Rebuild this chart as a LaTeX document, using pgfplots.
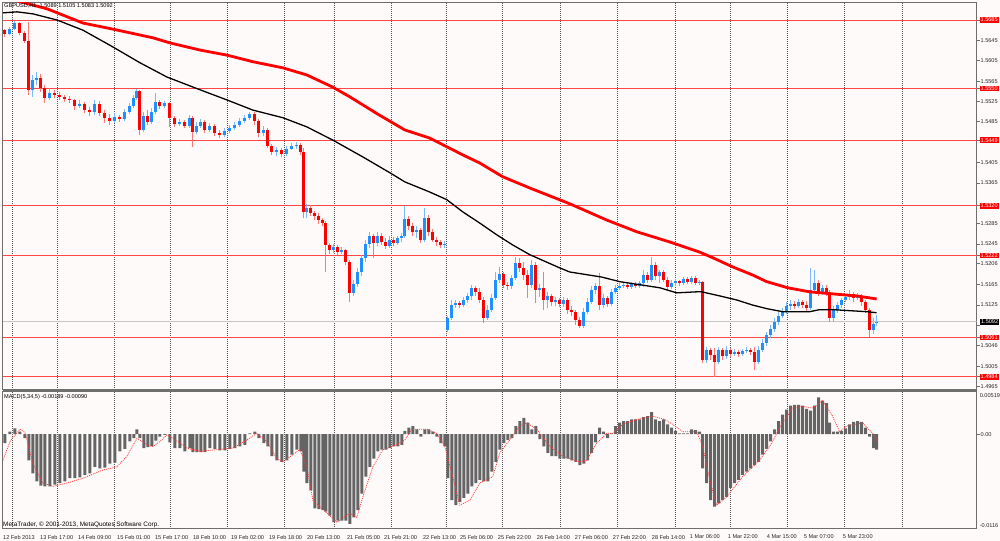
\documentclass[border=0pt]{standalone}
\usepackage{pgfplots}
\pgfplotsset{compat=1.18}
\usepackage{pgfplotstable}
\usepackage{fontspec}
\setmainfont{Liberation Sans}
\definecolor{bg}{RGB}{255,250,250}
\definecolor{upc}{RGB}{30,144,255}
\definecolor{dnc}{RGB}{255,0,0}
\definecolor{upw}{RGB}{120,185,255}
\definecolor{dnw}{RGB}{255,120,120}
\definecolor{lvl}{RGB}{255,70,70}
\definecolor{framec}{RGB}{110,110,110}
\definecolor{gridc}{RGB}{85,85,85}
\definecolor{histc}{RGB}{100,100,100}
\definecolor{sigc}{RGB}{255,60,60}

\pgfplotstableread{
x o h l c
5 1.5665 1.5667 1.5652 1.5658
10 1.5658 1.5671 1.5656 1.5667
15 1.5667 1.5683 1.5665 1.5679
20 1.5679 1.5681 1.5656 1.5660
25 1.5660 1.5663 1.5640 1.5644
29 1.5644 1.5681 1.5538 1.5548
33 1.5548 1.5577 1.5534 1.5567
37 1.5567 1.5583 1.5557 1.5571
41 1.5571 1.5579 1.5544 1.5552
45 1.5552 1.5557 1.5522 1.5532
50 1.5532 1.5552 1.5528 1.5542
55 1.5542 1.5548 1.5532 1.5538
60 1.5538 1.5544 1.5528 1.5534
65 1.5534 1.5538 1.5524 1.5530
70 1.5530 1.5536 1.5522 1.5528
75 1.5528 1.5530 1.5508 1.5516
80 1.5516 1.5528 1.5512 1.5520
85 1.5520 1.5524 1.5502 1.5508
90 1.5508 1.5514 1.5496 1.5504
95 1.5504 1.5528 1.5498 1.5520
100 1.5520 1.5526 1.5496 1.5502
105 1.5502 1.5508 1.5483 1.5493
110 1.5493 1.5500 1.5479 1.5487
115 1.5487 1.5502 1.5483 1.5495
120 1.5495 1.5498 1.5485 1.5491
125 1.5491 1.5510 1.5487 1.5504
130 1.5504 1.5522 1.5500 1.5516
134 1.5516 1.5538 1.5512 1.5532
137 1.5532 1.5550 1.5528 1.5546
140 1.5546 1.5548 1.5459 1.5469
144 1.5469 1.5504 1.5465 1.5497
148 1.5497 1.5508 1.5479 1.5485
152 1.5485 1.5512 1.5481 1.5504
156 1.5504 1.5542 1.5500 1.5524
160 1.5524 1.5528 1.5510 1.5516
165 1.5516 1.5526 1.5512 1.5522
170 1.5522 1.5524 1.5475 1.5493
175 1.5493 1.5497 1.5475 1.5481
180 1.5481 1.5491 1.5477 1.5485
185 1.5485 1.5489 1.5473 1.5477
190 1.5477 1.5498 1.5473 1.5493
193 1.5493 1.5497 1.5436 1.5465
197 1.5465 1.5485 1.5461 1.5477
201 1.5477 1.5491 1.5473 1.5485
205 1.5485 1.5489 1.5463 1.5469
210 1.5469 1.5483 1.5465 1.5477
215 1.5477 1.5481 1.5457 1.5463
220 1.5463 1.5469 1.5453 1.5459
225 1.5459 1.5473 1.5455 1.5467
230 1.5467 1.5479 1.5463 1.5473
235 1.5473 1.5485 1.5469 1.5479
240 1.5479 1.5493 1.5475 1.5487
245 1.5487 1.5498 1.5483 1.5493
250 1.5493 1.5504 1.5489 1.5500
255 1.5500 1.5504 1.5479 1.5487
259 1.5487 1.5491 1.5455 1.5463
264 1.5463 1.5477 1.5457 1.5469
268 1.5469 1.5473 1.5434 1.5438
272 1.5438 1.5442 1.5420 1.5426
277 1.5426 1.5436 1.5418 1.5430
282 1.5430 1.5434 1.5416 1.5422
287 1.5422 1.5438 1.5418 1.5432
292 1.5432 1.5444 1.5430 1.5438
297 1.5438 1.5446 1.5432 1.5440
301 1.5440 1.5444 1.5420 1.5426
304 1.5426 1.5434 1.5296 1.5308
307 1.5308 1.5324 1.5296 1.5316
311 1.5316 1.5322 1.5300 1.5306
315 1.5306 1.5310 1.5292 1.5300
319 1.5300 1.5306 1.5284 1.5292
323 1.5292 1.5296 1.5281 1.5286
326 1.5286 1.5290 1.5190 1.5243
330 1.5243 1.5247 1.5226 1.5233
334 1.5233 1.5245 1.5228 1.5239
338 1.5239 1.5243 1.5224 1.5229
342 1.5229 1.5239 1.5226 1.5233
346 1.5233 1.5235 1.5204 1.5210
350 1.5210 1.5214 1.5131 1.5149
354 1.5149 1.5174 1.5143 1.5167
358 1.5167 1.5198 1.5161 1.5190
362 1.5190 1.5224 1.5182 1.5218
366 1.5218 1.5253 1.5210 1.5245
370 1.5245 1.5269 1.5237 1.5261
374 1.5261 1.5265 1.5218 1.5247
378 1.5247 1.5269 1.5241 1.5261
382 1.5261 1.5267 1.5243 1.5249
386 1.5249 1.5257 1.5235 1.5241
390 1.5241 1.5261 1.5237 1.5253
394 1.5253 1.5259 1.5241 1.5247
398 1.5247 1.5261 1.5243 1.5257
402 1.5257 1.5267 1.5249 1.5261
405 1.5261 1.5320 1.5257 1.5294
409 1.5294 1.5300 1.5273 1.5281
413 1.5281 1.5286 1.5261 1.5269
417 1.5269 1.5281 1.5257 1.5273
421 1.5273 1.5277 1.5247 1.5253
425 1.5253 1.5316 1.5249 1.5296
429 1.5296 1.5302 1.5261 1.5269
433 1.5269 1.5275 1.5249 1.5253
437 1.5253 1.5259 1.5241 1.5249
441 1.5249 1.5253 1.5237 1.5243
445 1.5243 1.5251 1.5237 1.5245
448 1.5076 1.5104 1.5072 1.5100
452 1.5100 1.5135 1.5096 1.5125
456 1.5125 1.5135 1.5120 1.5129
460 1.5129 1.5133 1.5120 1.5125
464 1.5125 1.5141 1.5121 1.5135
468 1.5135 1.5149 1.5129 1.5143
472 1.5143 1.5165 1.5135 1.5159
476 1.5159 1.5163 1.5143 1.5151
480 1.5151 1.5159 1.5129 1.5135
484 1.5135 1.5141 1.5090 1.5100
488 1.5100 1.5125 1.5096 1.5116
492 1.5116 1.5147 1.5112 1.5139
496 1.5139 1.5190 1.5135 1.5174
500 1.5174 1.5200 1.5169 1.5186
504 1.5186 1.5190 1.5159 1.5165
508 1.5165 1.5171 1.5155 1.5163
512 1.5163 1.5184 1.5157 1.5178
516 1.5178 1.5220 1.5174 1.5208
520 1.5208 1.5218 1.5190 1.5198
524 1.5198 1.5210 1.5174 1.5184
528 1.5184 1.5194 1.5139 1.5165
532 1.5165 1.5214 1.5159 1.5204
536 1.5204 1.5210 1.5129 1.5155
540 1.5155 1.5167 1.5141 1.5159
544 1.5159 1.5190 1.5116 1.5135
548 1.5135 1.5151 1.5120 1.5143
552 1.5143 1.5147 1.5123 1.5131
556 1.5131 1.5141 1.5123 1.5135
560 1.5135 1.5139 1.5121 1.5127
564 1.5127 1.5141 1.5121 1.5135
568 1.5135 1.5139 1.5108 1.5116
572 1.5116 1.5123 1.5104 1.5112
576 1.5112 1.5116 1.5086 1.5096
580 1.5096 1.5102 1.5080 1.5084
584 1.5084 1.5120 1.5080 1.5112
588 1.5112 1.5139 1.5108 1.5131
592 1.5131 1.5163 1.5127 1.5155
596 1.5155 1.5169 1.5147 1.5163
600 1.5163 1.5188 1.5116 1.5125
604 1.5125 1.5147 1.5120 1.5139
608 1.5139 1.5143 1.5121 1.5127
612 1.5127 1.5157 1.5123 1.5151
616 1.5151 1.5165 1.5147 1.5159
620 1.5159 1.5169 1.5155 1.5163
624 1.5163 1.5171 1.5159 1.5165
628 1.5165 1.5169 1.5157 1.5161
632 1.5161 1.5171 1.5157 1.5167
636 1.5167 1.5171 1.5159 1.5163
640 1.5163 1.5173 1.5159 1.5169
644 1.5169 1.5194 1.5161 1.5184
648 1.5184 1.5190 1.5169 1.5174
652 1.5174 1.5220 1.5171 1.5204
656 1.5204 1.5210 1.5174 1.5182
660 1.5182 1.5194 1.5169 1.5190
664 1.5190 1.5194 1.5171 1.5174
668 1.5174 1.5180 1.5155 1.5161
672 1.5161 1.5174 1.5157 1.5169
676 1.5169 1.5176 1.5163 1.5173
680 1.5173 1.5174 1.5163 1.5169
684 1.5169 1.5180 1.5165 1.5176
688 1.5176 1.5180 1.5167 1.5171
692 1.5171 1.5182 1.5167 1.5178
696 1.5178 1.5182 1.5165 1.5169
700 1.5169 1.5174 1.5165 1.5171
703 1.5171 1.5173 1.5012 1.5017
707 1.5017 1.5043 1.5012 1.5037
711 1.5037 1.5041 1.5017 1.5027
715 1.5027 1.5041 1.4984 1.5013
719 1.5013 1.5043 1.5010 1.5037
723 1.5037 1.5041 1.5017 1.5025
727 1.5025 1.5045 1.5019 1.5037
731 1.5037 1.5041 1.5023 1.5029
735 1.5029 1.5039 1.5025 1.5033
739 1.5033 1.5037 1.5023 1.5029
743 1.5029 1.5039 1.5025 1.5035
747 1.5035 1.5043 1.5031 1.5037
751 1.5037 1.5041 1.5027 1.5033
755 1.5033 1.5043 1.4998 1.5013
759 1.5013 1.5045 1.5010 1.5037
763 1.5037 1.5059 1.5033 1.5051
767 1.5051 1.5072 1.5045 1.5066
771 1.5066 1.5086 1.5061 1.5078
775 1.5078 1.5100 1.5072 1.5092
779 1.5092 1.5112 1.5086 1.5104
783 1.5104 1.5120 1.5100 1.5112
787 1.5112 1.5131 1.5108 1.5123
791 1.5123 1.5135 1.5116 1.5127
795 1.5127 1.5133 1.5118 1.5123
799 1.5123 1.5137 1.5120 1.5131
803 1.5131 1.5135 1.5120 1.5125
807 1.5125 1.5133 1.5112 1.5120
811 1.5120 1.5198 1.5116 1.5155
815 1.5155 1.5194 1.5151 1.5169
819 1.5169 1.5174 1.5143 1.5151
823 1.5151 1.5165 1.5145 1.5159
827 1.5159 1.5165 1.5143 1.5151
830 1.5151 1.5155 1.5092 1.5100
834 1.5100 1.5123 1.5092 1.5116
838 1.5116 1.5131 1.5110 1.5125
842 1.5125 1.5139 1.5120 1.5135
846 1.5135 1.5147 1.5131 1.5141
850 1.5141 1.5155 1.5135 1.5147
854 1.5147 1.5151 1.5131 1.5139
858 1.5139 1.5149 1.5135 1.5143
862 1.5143 1.5147 1.5123 1.5131
866 1.5131 1.5135 1.5110 1.5116
870 1.5116 1.5120 1.5063 1.5076
874 1.5076 1.5100 1.5068 1.5088
877 1.5089 1.5105 1.5083 1.5092
}\candles

\pgfplotstableread{
x y
18 1.5722
47 1.5707
83 1.5679
113 1.5667
153 1.5650
170 1.5640
200 1.5626
227 1.5616
253 1.5603
283 1.5591
307 1.5577
333 1.5553
350 1.5534
378 1.5500
405 1.5469
430 1.5453
447 1.5436
463 1.5420
480 1.5404
503 1.5377
530 1.5355
570 1.5324
607 1.5292
637 1.5269
670 1.5249
700 1.5229
713 1.5218
733 1.5200
753 1.5184
767 1.5171
788 1.5159
810 1.5151
833 1.5147
857 1.5143
877 1.5137
}\redma

\pgfplotstableread{
x y
3 1.5699
17 1.5701
33 1.5697
57 1.5685
83 1.5665
113 1.5632
140 1.5601
167 1.5573
200 1.5548
227 1.5528
253 1.5508
283 1.5493
307 1.5475
333 1.5449
363 1.5416
390 1.5385
405 1.5367
430 1.5347
447 1.5332
463 1.5308
480 1.5286
497 1.5263
513 1.5243
530 1.5224
560 1.5198
570 1.5190
602 1.5180
620 1.5171
640 1.5165
660 1.5159
677 1.5149
697 1.5151
702 1.5151
720 1.5143
737 1.5135
753 1.5125
767 1.5118
783 1.5112
810 1.5112
820 1.5116
833 1.5116
850 1.5114
867 1.5112
877 1.5110
}\blackma

\pgfplotstableread{
x y
5 -0.0011
10 0.0003
15 0.0007
20 0.0003
25 -0.0005
29 -0.0032
33 -0.0048
37 -0.0058
41 -0.0063
45 -0.0064
50 -0.0064
55 -0.0062
60 -0.0060
65 -0.0058
70 -0.0054
75 -0.0054
80 -0.0053
85 -0.0050
90 -0.0048
95 -0.0040
100 -0.0042
105 -0.0041
110 -0.0036
115 -0.0035
120 -0.0021
125 -0.0018
130 -0.0009
134 -0.0005
137 0.0006
140 -0.0005
144 -0.0017
148 -0.0016
152 -0.0015
156 -0.0008
160 -0.0003
165 -0.0001
170 -0.0010
175 -0.0017
180 -0.0017
185 -0.0021
190 -0.0017
193 -0.0022
197 -0.0022
201 -0.0022
205 -0.0022
210 -0.0017
215 -0.0018
220 -0.0020
225 -0.0020
230 -0.0018
235 -0.0017
240 -0.0015
245 -0.0013
250 0.0001
255 0.0003
259 -0.0005
264 -0.0011
268 -0.0015
272 -0.0027
277 -0.0032
282 -0.0034
287 -0.0032
292 -0.0025
297 -0.0019
301 -0.0021
304 -0.0046
307 -0.0060
311 -0.0069
315 -0.0091
319 -0.0092
323 -0.0093
326 -0.0095
330 -0.0100
334 -0.0108
338 -0.0106
342 -0.0106
346 -0.0106
350 -0.0110
354 -0.0102
358 -0.0093
362 -0.0073
366 -0.0052
370 -0.0040
374 -0.0030
378 -0.0021
382 -0.0019
386 -0.0019
390 -0.0017
394 -0.0015
398 -0.0015
402 -0.0013
405 0.0004
409 0.0008
413 0.0010
417 0.0006
421 -0.0003
425 0.0006
429 0.0006
433 0.0003
437 -0.0003
441 -0.0011
445 -0.0015
448 -0.0054
452 -0.0081
456 -0.0087
460 -0.0083
464 -0.0078
468 -0.0073
472 -0.0064
476 -0.0060
480 -0.0056
484 -0.0058
488 -0.0058
492 -0.0046
496 -0.0034
500 -0.0019
504 -0.0011
508 -0.0007
512 -0.0005
516 0.0010
520 0.0016
524 0.0020
528 0.0014
532 0.0006
536 0.0010
540 -0.0006
544 -0.0015
548 -0.0023
552 -0.0027
556 -0.0027
560 -0.0030
564 -0.0030
568 -0.0030
572 -0.0032
576 -0.0034
580 -0.0038
584 -0.0036
588 -0.0032
592 -0.0023
596 -0.0010
600 0.0008
604 0.0003
608 -0.0005
612 0.0001
616 0.0010
620 0.0014
624 0.0016
628 0.0016
632 0.0018
636 0.0018
640 0.0018
644 0.0021
648 0.0022
652 0.0027
656 0.0018
660 0.0016
664 0.0018
668 0.0012
672 0.0008
676 0.0004
680 0.0001
684 0.0001
688 0.0001
692 0.0006
696 0.0005
700 0.0003
703 -0.0042
707 -0.0060
711 -0.0081
715 -0.0089
719 -0.0085
723 -0.0081
727 -0.0077
731 -0.0066
735 -0.0060
739 -0.0056
743 -0.0050
747 -0.0046
751 -0.0042
755 -0.0038
759 -0.0034
763 -0.0025
767 -0.0018
771 -0.0009
775 0.0006
779 0.0016
783 0.0024
787 0.0030
791 0.0035
795 0.0036
799 0.0036
803 0.0035
807 0.0031
811 0.0029
815 0.0035
819 0.0045
823 0.0041
827 0.0038
830 0.0014
834 0.0003
838 0.0003
842 0.0004
846 0.0007
850 0.0012
854 0.0015
858 0.0016
862 0.0015
866 0.0008
870 -0.0003
874 -0.0017
877 -0.0019
}\macd

\pgfplotstableread{
x y
3 -0.0032
10 -0.0009
20 0.0006
25 0.0002
33 -0.0036
43 -0.0060
53 -0.0064
67 -0.0060
83 -0.0054
103 -0.0044
117 -0.0040
127 -0.0027
137 -0.0005
147 -0.0013
153 -0.0015
160 -0.0009
167 -0.0001
173 -0.0005
187 -0.0017
200 -0.0021
217 -0.0019
233 -0.0017
247 -0.0007
257 0.0001
267 -0.0009
277 -0.0030
283 -0.0034
293 -0.0025
300 -0.0019
307 -0.0040
313 -0.0081
320 -0.0089
330 -0.0100
337 -0.0108
350 -0.0097
357 -0.0102
363 -0.0077
373 -0.0040
383 -0.0019
397 -0.0013
405 -0.0007
412 0.0006
427 0.0006
437 0.0001
445 -0.0015
452 -0.0048
460 -0.0087
470 -0.0081
480 -0.0060
493 -0.0052
500 -0.0023
510 -0.0007
520 0.0010
527 0.0014
537 0.0006
550 -0.0015
563 -0.0027
580 -0.0034
587 -0.0032
597 -0.0011
607 0.0001
613 0.0001
623 0.0012
637 0.0018
653 0.0022
665 0.0018
673 0.0012
683 0.0003
697 0.0003
703 -0.0015
710 -0.0056
717 -0.0087
727 -0.0077
743 -0.0052
760 -0.0032
772 -0.0011
780 0.0008
793 0.0032
803 0.0034
813 0.0032
823 0.0041
833 0.0022
840 0.0003
847 0.0010
863 0.0014
873 0.0001
878 -0.0009
}\signal

\newcommand{\lf}{\fontsize{5.6}{6.5}\selectfont}

\begin{document}
\begin{tikzpicture}[x=1pt,y=1pt]
\fill[bg] (0,0) rectangle (1000,541);

\begin{axis}[
  at={(3pt,151pt)}, anchor=south west, scale only axis,
  width=974pt, height=387pt,
  xmin=3, xmax=977, ymin=1.49585, ymax=1.57184,
  axis line style={draw=framec, line width=1pt},
  xtick={12,57,114,170,227,284,334,392,447,503,561,618,676,731,788,845,903},
  xticklabels={},
  xtick style={draw=none},
  xmajorgrids,
  major grid style={draw=gridc, dash pattern=on 1pt off 1pt, line width=0.7pt},
  ytick pos=right, yticklabel pos=right,
  ytick={1.5645,1.5605,1.5565,1.5525,1.5485,1.5405,1.5365,1.5285,1.5245,1.5206,1.5165,1.5125,1.5085,1.5046,1.5005,1.4965},
  yticklabels={1.5645,1.5605,1.5565,1.5525,1.5485,1.5405,1.5365,1.5285,1.5245,1.5206,1.5165,1.5125,,1.5046,1.5005,1.4965},
  ytick style={draw=framec, line width=0.7pt},
  tick align=outside, major tick length=3pt,
  tick label style={font=\lf, text=black!85},
  yticklabel style={anchor=west, inner sep=0.8pt},
  extra y ticks={1.5685,1.5550,1.5449,1.5320,1.5222,1.5061,1.4984},
  extra y tick labels={1.5685,1.5550,1.5449,1.5320,1.5222,1.5061,1.4984},
  extra y tick style={grid=major, major grid style={draw=lvl, solid, line width=0.9pt},
     yticklabel style={fill=dnc, text=white}},
]
\addplot[gray!45, line width=0.8pt, forget plot] coordinates {(3,1.5092) (977,1.5092)};
% wicks
\addplot[draw=none, mark=none, forget plot,
  restrict expr to domain={\thisrow{c}-\thisrow{o}}{0:1},
  error bars/.cd, y dir=plus, y explicit, error mark=none,
  error bar style={draw=upw, solid, line width=1pt}]
  table[x=x, y=l, y error expr=\thisrow{h}-\thisrow{l}] {\candles};
\addplot[draw=none, mark=none, forget plot,
  restrict expr to domain={\thisrow{c}-\thisrow{o}}{-1:-0.00001},
  error bars/.cd, y dir=plus, y explicit, error mark=none,
  error bar style={draw=dnw, solid, line width=1pt}]
  table[x=x, y=l, y error expr=\thisrow{h}-\thisrow{l}] {\candles};
% bodies
\addplot[draw=none, mark=none, forget plot,
  restrict expr to domain={\thisrow{c}-\thisrow{o}}{0:1},
  error bars/.cd, y dir=plus, y explicit, error mark=none,
  error bar style={draw=upc, solid, line width=3pt}]
  table[x=x, y=o, y error expr=\thisrow{c}-\thisrow{o}] {\candles};
\addplot[draw=none, mark=none, forget plot,
  restrict expr to domain={\thisrow{c}-\thisrow{o}}{-1:-0.00001},
  error bars/.cd, y dir=plus, y explicit, error mark=none,
  error bar style={draw=dnc, solid, line width=3pt}]
  table[x=x, y=c, y error expr=\thisrow{o}-\thisrow{c}] {\candles};
% moving averages
\addplot[dnc, line width=2.8pt, forget plot] table {\redma};
\addplot[black, line width=1.3pt, forget plot] table {\blackma};
\coordinate (bid) at (axis cs:977,1.5092);
\end{axis}

\node[fill=black, text=white, anchor=west, inner sep=0.8pt, font=\lf] at ([xshift=3.5pt]bid) {1.5092};

\begin{axis}[
  at={(3pt,12pt)}, anchor=south west, scale only axis,
  width=974pt, height=137pt,
  xmin=3, xmax=977, ymin=-0.0116, ymax=0.00519,
  scaled y ticks=false,
  axis line style={draw=framec, line width=1pt},
  xtick={12,57,114,170,227,284,334,392,447,503,561,618,676,731,788,845,903},
  xticklabels={},
  xtick style={draw=none},
  xmajorgrids,
  major grid style={draw=gridc, dash pattern=on 1pt off 1pt, line width=0.7pt},
  extra x ticks={3,40,78,117,155,193,231,269,307,347,384,423,460,498,537,575,613,652,690,728,767,804,843},
  extra x tick labels={12 Feb 2013,13 Feb 17:00,14 Feb 09:00,15 Feb 01:00,15 Feb 17:00,18 Feb 10:00,19 Feb 02:00,19 Feb 18:00,20 Feb 13:00,21 Feb 05:00,21 Feb 21:00,22 Feb 13:00,25 Feb 06:00,25 Feb 22:00,26 Feb 14:00,27 Feb 06:00,27 Feb 22:00,28 Feb 14:00,1 Mar 06:00,1 Mar 22:00,4 Mar 15:00,5 Mar 07:00,5 Mar 23:00},
  extra x tick style={grid=none, xticklabel style={anchor=north west, inner sep=0pt, yshift=-3pt}},
  ytick pos=right, yticklabel pos=right,
  ytick={0}, yticklabels={0.00},
  ytick style={draw=framec, line width=0.7pt},
  tick align=outside, major tick length=3pt,
  tick label style={font=\lf, text=black!85},
  yticklabel style={anchor=west, inner sep=0.8pt},
]
\addplot[ybar, bar width=3pt, bar shift=0pt, fill=histc, draw=none, forget plot] table {\macd};
\addplot[sigc, line width=0.8pt, dash pattern=on 1pt off 1pt, forget plot] table {\signal};
\end{axis}

\fill[framec] (3,149) rectangle (977,152);
\node[anchor=west, inner sep=0pt, font=\lf] at (4,535) {GBPUSD,H1\ \ 1.5089 1.5105 1.5083 1.5092};
\node[anchor=west, inner sep=0pt, font=\lf] at (4,144) {MACD(5,34,5) -0.00189 -0.00090};
\node[anchor=west, inner sep=0pt, font=\fontsize{6.4}{7}\selectfont] at (3,15.5) {MetaTrader, © 2001-2013, MetaQuotes Software Corp.};
\node[anchor=west, inner sep=0pt, font=\lf, text=black!85] at (980,145.5) {0.00519};
\node[anchor=west, inner sep=0pt, font=\lf, text=black!85] at (980,15) {-0.0116};
\end{tikzpicture}
\end{document}
